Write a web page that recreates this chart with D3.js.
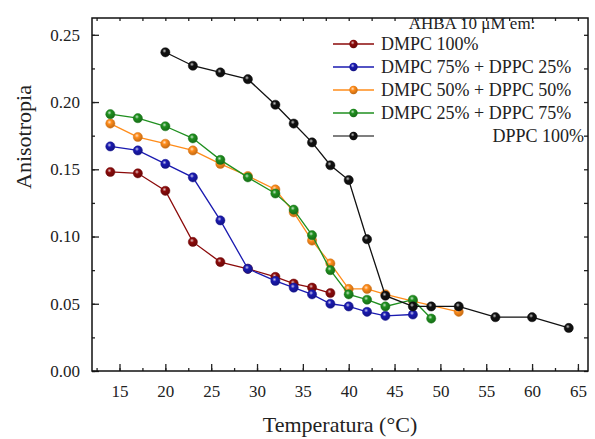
<!DOCTYPE html>
<html>
<head>
<meta charset="utf-8">
<script src="https://cdn.jsdelivr.net/npm/d3@7"></script>
<style>
    body { margin: 0; background: #fff; }
    svg { display: block; font-family: "Liberation Serif", "DejaVu Serif", serif; }
    svg text { font-family: "Liberation Serif", "DejaVu Serif", serif; }
</style>
</head>
<body>
<svg id="vis" width="595" height="439"></svg>
<script>

// data
const tDMPC100 = [14, 17, 20, 23, 26, 29, 32, 34, 36, 38];
const aDMPC100 = [0.148, 0.147, 0.134, 0.096, 0.081, 0.076, 0.070, 0.065, 0.062, 0.058];

const tDMPC75 = [14, 17, 20, 23, 26, 29, 32, 34, 36, 38, 40, 42, 44, 47];
const aDMPC75 = [0.167, 0.164, 0.154, 0.144, 0.112, 0.076, 0.067, 0.062, 0.057, 0.050, 0.048, 0.044, 0.041, 0.042];

const tDMPC50 = [14, 17, 20, 23, 26, 29, 32, 34, 36, 38, 40, 42, 44, 47, 52];
const aDMPC50 = [0.184, 0.174, 0.169, 0.164, 0.154, 0.145, 0.135, 0.118, 0.097, 0.080, 0.061, 0.061, 0.057, 0.052, 0.044];

const tDMPC25 = [14, 17, 20, 23, 26, 29, 32, 34, 36, 38, 40, 42, 44, 47, 49];
const aDMPC25 = [0.191, 0.188, 0.182, 0.173, 0.157, 0.144, 0.132, 0.120, 0.101, 0.075, 0.057, 0.053, 0.048, 0.053, 0.039];

const tDPPC100 = [20, 23, 26, 29, 32, 34, 36, 38, 40, 42, 44, 47, 49, 52, 56, 60, 64];
const aDPPC100 = [0.237, 0.227, 0.222, 0.217, 0.198, 0.184, 0.170, 0.153, 0.142, 0.098, 0.056, 0.048, 0.048, 0.048, 0.040, 0.040, 0.032];

const seriesNames = ["DMPC 100%", "DMPC 75% + DPPC 25%", "DMPC 50% + DPPC 50%", "DMPC 25% + DPPC 75%", "DPPC 100%"];
const seriesColors = ["#8b0a0a", "#1a1ab0", "#ff8c1a", "#1f8f1f", "#111111"];
const legendTitle = "AHBA 10 \u03bcM em:";

const xTicks = [15, 20, 25, 30, 35, 40, 45, 50, 55, 60, 65];
const yTicks = [0, 0.05, 0.10, 0.15, 0.20, 0.25];

const series = [
    {t: tDMPC100, a: aDMPC100},
    {t: tDMPC75, a: aDMPC75},
    {t: tDMPC50, a: aDMPC50},
    {t: tDMPC25, a: aDMPC25},
    {t: tDPPC100, a: aDPPC100}
].map(function (s, i) {
    return {
        name: seriesNames[i],
        color: seriesColors[i],
        points: s.t.map(function (t, j) { return {t: t, a: s.a[j]}; })
    };
});

const svg = d3.select('#vis');
const mLeft = 92, mRight = 588, mTop = 18, mBottom = 371;

const x = d3.scaleLinear().domain([12, 66.1]).range([mLeft, mRight]);
const y = d3.scaleLinear().domain([0, 0.2625]).range([mBottom, mTop]);

// ball marker gradients
const defs = svg.append('defs');
series.forEach(function (s, i) {
    const g = defs.append('radialGradient')
        .attr('id', 'ball' + i)
        .attr('cx', '40%').attr('cy', '35%').attr('r', '65%');
    g.append('stop').attr('offset', '0%').attr('stop-color', d3.interpolateRgb(s.color, '#fff')(0.75));
    g.append('stop').attr('offset', '35%').attr('stop-color', s.color);
    g.append('stop').attr('offset', '100%').attr('stop-color', d3.color(s.color).darker(0.8));
});

// axes
const minorX = d3.range(12.5, 66, 2.5);
const minorY = d3.range(0, 0.26, 0.025);

svg.append('g')
    .attr('transform', 'translate(0,' + mBottom + ')')
    .call(d3.axisBottom(x).tickValues(minorX).tickSize(-3).tickFormat(''));
svg.append('g')
    .attr('transform', 'translate(0,' + mBottom + ')')
    .call(d3.axisBottom(x).tickValues(xTicks).tickSize(-7).tickPadding(14));

svg.append('g')
    .attr('transform', 'translate(' + mLeft + ',0)')
    .call(d3.axisLeft(y).tickValues(minorY).tickSize(-3).tickFormat(''));
svg.append('g')
    .attr('transform', 'translate(' + mLeft + ',0)')
    .call(d3.axisLeft(y).tickValues(yTicks).tickSize(-7).tickPadding(12).tickFormat(d3.format('.2f')));

svg.append('g')
    .attr('transform', 'translate(0,' + mTop + ')')
    .call(d3.axisTop(x).tickValues(minorX).tickSize(-3).tickFormat(''));
svg.append('g')
    .attr('transform', 'translate(' + mRight + ',0)')
    .call(d3.axisRight(y).tickValues(minorY).tickSize(-4).tickFormat(''));

svg.selectAll('.domain').remove();
svg.selectAll('g').attr('font-family', null).attr('font-size', null);
svg.selectAll('.tick line').attr('stroke', '#222').attr('stroke-width', 1.3);
svg.selectAll('.tick text')
    .attr('fill', '#222')
    .style('font-size', '17px');

svg.append('rect')
    .attr('x', mLeft).attr('y', mTop)
    .attr('width', mRight - mLeft).attr('height', mBottom - mTop)
    .attr('fill', 'none').attr('stroke', '#111').attr('stroke-width', 1.5);

// series
const line = d3.line()
    .x(function (d) { return x(d.t); })
    .y(function (d) { return y(d.a); });

series.forEach(function (s, i) {
    const g = svg.append('g');
    g.append('path')
        .datum(s.points)
        .attr('d', line)
        .attr('fill', 'none')
        .attr('stroke', s.color)
        .attr('stroke-width', 1.3);
    g.selectAll('circle')
        .data(s.points)
        .enter().append('circle')
        .attr('cx', function (d) { return x(d.t); })
        .attr('cy', function (d) { return y(d.a); })
        .attr('r', 4.6)
        .attr('fill', 'url(#ball' + i + ')')
        .attr('stroke', d3.color(s.color).darker(0.5))
        .attr('stroke-width', 0.5);
});

// legend
const legend = svg.append('g');
legend.append('text')
    .attr('x', 472).attr('y', 29)
    .attr('text-anchor', 'middle')
    .style('font-size', '17px')
    .attr('fill', '#222')
    .text(legendTitle);

series.forEach(function (s, i) {
    const cy = 44 + i * 23;
    legend.append('line')
        .attr('x1', 333).attr('x2', 374)
        .attr('y1', cy).attr('y2', cy)
        .attr('stroke', i == 4 ? '#555' : s.color)
        .attr('stroke-width', 1.3);
    legend.append('circle')
        .attr('cx', 353.5).attr('cy', cy).attr('r', 4.2)
        .attr('fill', 'url(#ball' + i + ')');
    legend.append('text')
        .attr('x', i == 4 ? 584 : 381)
        .attr('y', cy + 6)
        .attr('text-anchor', i == 4 ? 'end' : 'start')
        .style('font-size', '18px')
        .attr('fill', '#222')
        .text(s.name);
});

// axis titles
svg.append('text')
    .attr('x', (mLeft + mRight) / 2)
    .attr('y', 432)
    .attr('text-anchor', 'middle')
    .style('font-size', '22px')
    .attr('fill', '#222')
    .text('Temperatura (\u00b0C)');

svg.append('text')
    .attr('transform', 'translate(31,137) rotate(-90)')
    .attr('text-anchor', 'middle')
    .style('font-size', '22px')
    .attr('fill', '#222')
    .text('Anisotropia');

</script>
</body>
</html>
